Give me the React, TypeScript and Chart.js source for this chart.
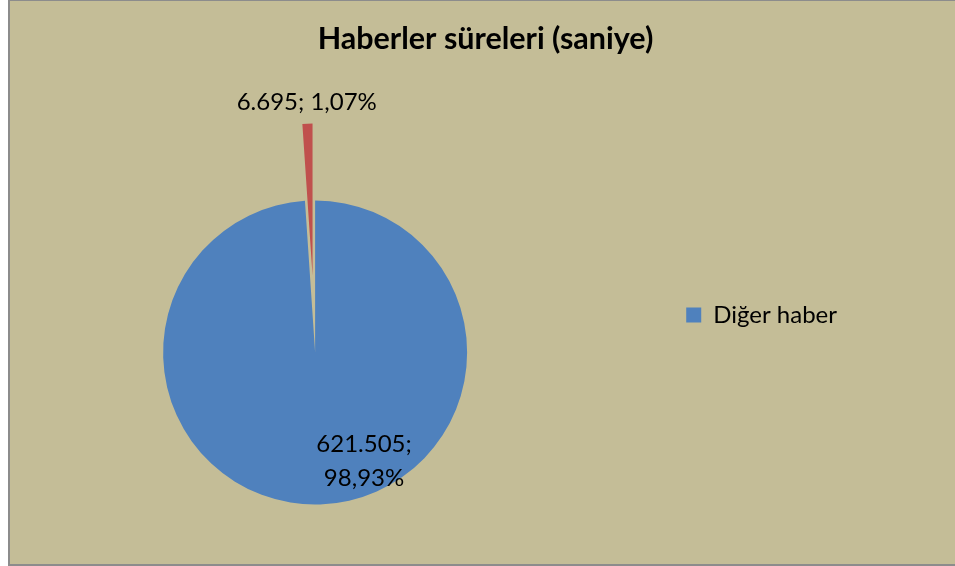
import React, { useEffect, useRef } from 'react';
import { Chart, registerables } from 'chart.js';

Chart.register(...registerables);

// ---- data ----
const categories = ['Diğer haber', ''];
const durations = [621505, 6695];
const sliceColors = ['#4F81BD', '#C0504D'];
const sliceExplode = [0, 77];
const chartTitle = 'Haberler süreleri (saniye)';

const FONT = 'Lato, "Open Sans", sans-serif';

function fmtThousands(n: number): string {
  return String(n).replace(/\B(?=(\d{3})+(?!\d))/g, '.');
}
function fmtPct(v: number): string {
  return v.toFixed(2).replace('.', ',');
}

// draws each arc element of the library, pulled outward by its explode distance
const explodePlugin = {
  id: 'explodeSlices',
  beforeDatasetDraw(chart: any, args: any) {
    const ctx = chart.ctx;
    args.meta.data.forEach((arc: any, i: number) => {
      const e = sliceExplode[i] || 0;
      const mid = (arc.startAngle + arc.endAngle) / 2;
      ctx.save();
      ctx.translate(Math.cos(mid) * e, Math.sin(mid) * e);
      arc.draw(ctx);
      ctx.restore();
    });
    return false;
  },
};

const labelPlugin = {
  id: 'sliceLabels',
  afterDatasetsDraw(chart: any) {
    const ctx = chart.ctx;
    const meta = chart.getDatasetMeta(0);
    const total = durations.reduce((a, b) => a + b, 0);
    ctx.save();
    ctx.font = `24px ${FONT}`;
    ctx.fillStyle = '#000';
    ctx.textAlign = 'center';
    ctx.textBaseline = 'middle';
    meta.data.forEach((arc: any, i: number) => {
      const p = arc.getProps(['x', 'y', 'startAngle', 'endAngle', 'outerRadius', 'circumference']);
      const value = durations[i];
      const pct = fmtPct((value / total) * 100);
      const mid = (p.startAngle + p.endAngle) / 2;
      if (p.circumference < 0.5) {
        const d = p.outerRadius + (sliceExplode[i] || 0) + 21;
        ctx.fillText(`${fmtThousands(value)}; ${pct}%`, p.x + Math.cos(mid) * d, p.y + Math.sin(mid) * d);
      } else {
        const cx = p.x + p.outerRadius * 0.322;
        const cy = p.y + p.outerRadius * 0.717;
        ctx.fillText(`${fmtThousands(value)};`, cx, cy - 17);
        ctx.fillText(`${pct}%`, cx, cy + 17);
      }
    });
    ctx.restore();
  },
};

export default function App() {
  const ref = useRef<HTMLCanvasElement | null>(null);

  useEffect(() => {
    if (!ref.current) return;
    Chart.defaults.font.family = FONT;
    const chart = new Chart(ref.current, {
      type: 'pie',
      data: {
        labels: categories,
        datasets: [
          {
            data: durations,
            backgroundColor: sliceColors,
            borderWidth: 0,
            radius: 152,
            clip: false,
          } as any,
        ],
      },
      options: {
        responsive: false,
        animation: false,
        layout: { padding: { left: 114, right: 108, top: 0, bottom: 57 } },
        plugins: {
          title: {
            display: true,
            text: chartTitle,
            color: '#000',
            font: { family: FONT, size: 30.5, weight: 'bold', lineHeight: 1.2 },
            padding: { top: 19.7, bottom: 140.7 },
          },
          legend: {
            position: 'right',
            align: 'end',
            labels: {
              boxWidth: 15,
              boxHeight: 15,
              padding: 180,
              color: '#000',
              font: { family: FONT, size: 24 },
              filter: (item: any) => !!item.text,
            },
          },
          tooltip: { enabled: false },
        },
      } as any,
      plugins: [explodePlugin, labelPlugin],
    });
    return () => chart.destroy();
  }, []);

  return (
    <div
      style={{
        position: 'absolute',
        left: 8,
        top: 0,
        width: 947,
        height: 566,
        boxSizing: 'border-box',
        background: '#C4BD97',
        borderLeft: '2px solid #8C8C8C',
        borderTop: '1px solid #8C8C8C',
        borderBottom: '2px solid #8C8C8C',
      }}
    >
      <canvas ref={ref} width={945} height={563} style={{ display: 'block', width: 945, height: 563 }} />
    </div>
  );
}
